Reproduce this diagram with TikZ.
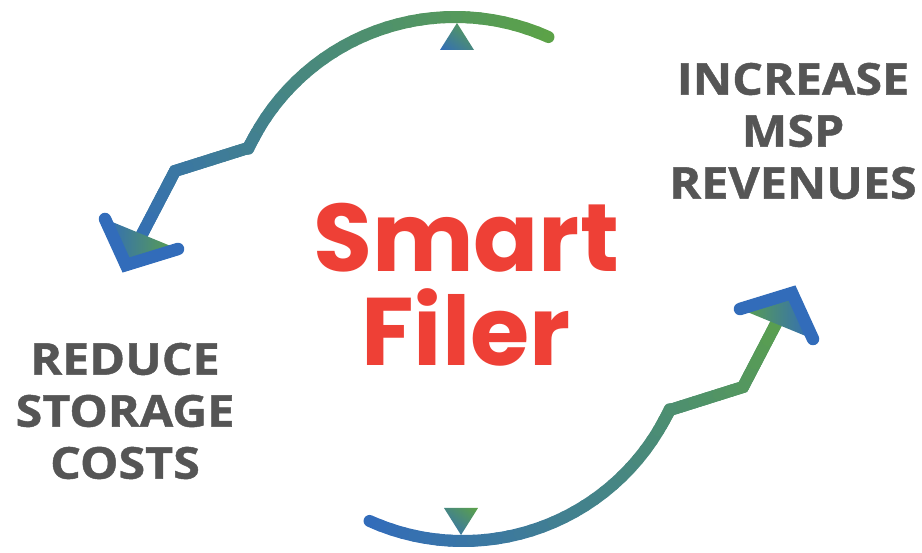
\documentclass[tikz,border=0pt]{standalone}
\usepackage{fontspec}
\setmainfont{Open Sans}[FakeStretch=1.1, BoldFeatures={FakeBold=1}]
\newfontfamily\smartfont{Poppins}
\usetikzlibrary{calc, shadings}

\definecolor{loopgreen}{RGB}{92,162,72}
\definecolor{loopblue}{RGB}{50,108,186}
\colorlet{loopteal}{loopblue!50!loopgreen}
\definecolor{goalgrey}{RGB}{85,85,85}
\definecolor{smartred}{RGB}{238,64,54}

\tikzset{
  loop line/.style={line width=12pt, line cap=round, line join=round},
  chevron/.style={loopblue, line width=12.5pt, line cap=round, line join=miter},
  goal/.style={font=\bfseries\fontsize{44}{52}\selectfont, text=goalgrey, align=center, inner sep=0pt},
  title/.style={font=\smartfont\bfseries\fontsize{96}{94}\selectfont, text=smartred, align=center, inner sep=0pt},
}

\begin{document}
\begin{tikzpicture}[x=1pt, y=-1pt]
  \useasboundingbox (0,0) rectangle (922,553);
  \coordinate (mid) at (459,279);

  % both arrows: the lower one is the upper one turned half round
  \foreach \turn/\colA/\colB in {0/loopgreen/loopblue, 180/loopblue/loopgreen} {
    \begin{scope}[rotate around={\turn:(mid)}]
      \coordinate (kinkA) at (248,148);
      \coordinate (kinkB) at (175,171);
      \coordinate (tip)   at (126,265);
      \coordinate (armL)  at (105,219);
      \coordinate (armR)  at (178,249);

      % sharp corners under the coloured pieces
      \draw[loop line, line join=miter, line cap=butt, \colB!72!\colA]
        ({455+228*cos(-150)},{245+228*sin(-150)}) -- (kinkA) -- (kinkB) -- (tip);

      % arc in short pieces, so the colour runs along it
      \foreach \i in {0,...,29} {
        \pgfmathsetmacro\ang{-65.8-2.97*\i}
        \pgfmathsetmacro\mix{65*\i/30}
        \draw[loop line, \colB!\mix!\colA]
          ({455+228*cos(\ang)},{245+228*sin(\ang)}) arc[start angle=\ang, delta angle=-3.1, radius=228];
      }
      \foreach \j in {0,...,5} {
        \pgfmathsetmacro\s{\j/6}
        \pgfmathsetmacro\t{(\j+1)/6}
        \pgfmathsetmacro\mix{65+15*\j/6}
        \draw[loop line, \colB!\mix!\colA] ($(kinkA)!\s!(kinkB)$) -- ($(kinkA)!\t!(kinkB)$);
      }
      \foreach \j in {0,...,7} {
        \pgfmathsetmacro\s{\j/8}
        \pgfmathsetmacro\t{(\j+1)/8}
        \pgfmathsetmacro\mix{80+20*\j/8}
        \draw[loop line, \colB!\mix!\colA] ($(kinkB)!\s!(tip)$) -- ($(kinkB)!\t!(tip)$);
      }

      % arrow head
      \shade[left color=\colB, right color=\colA] (armL) -- (tip) -- (armR) -- cycle;
      \draw[chevron] (armL) -- (tip) -- (armR);
    \end{scope}
  }

  % small marks on the two arcs
  \shade[lower left=loopblue, upper right=loopgreen, upper left=loopteal, lower right=loopteal]
    (440,50) -- (457,23) -- (474,50) -- cycle;
  \shade[lower left=loopblue, upper right=loopgreen, upper left=loopteal, lower right=loopteal]
    (444,508) -- (478,508) -- (461,535) -- cycle;

  \node[title] (smart) at (466,285) {Smart\\Filer};
  \node[goal] (reduce) at (125,411) {REDUCE\\STORAGE\\COSTS};
  \node[goal] (increase) at (793,131) {INCREASE\\MSP\\REVENUES};
\end{tikzpicture}
\end{document}
